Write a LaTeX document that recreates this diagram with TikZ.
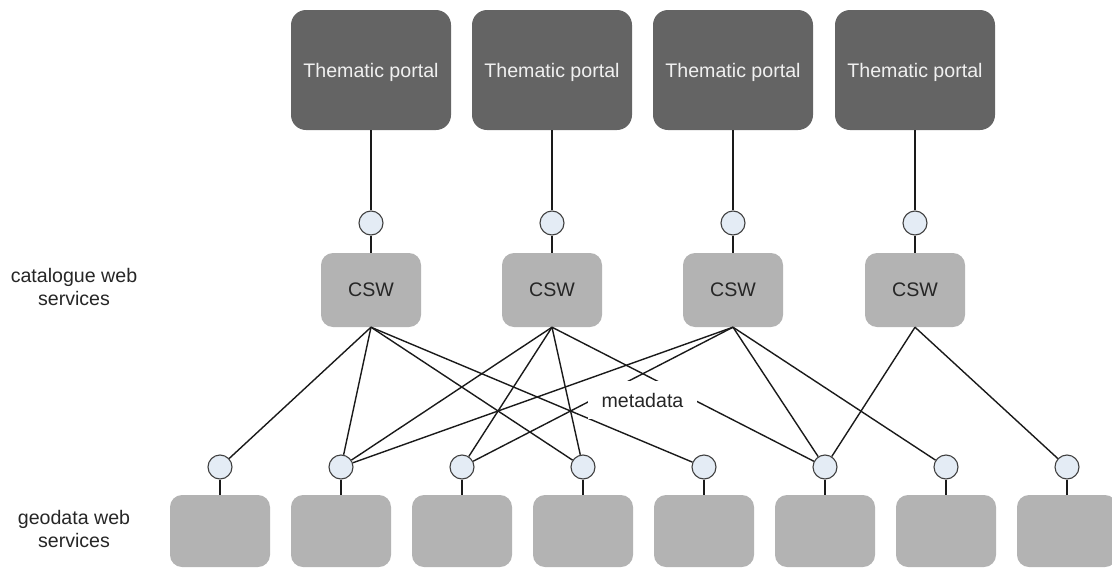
\documentclass[tikz,border=0pt]{standalone}
\usepackage{fontspec}
\setmainfont{Liberation Sans}
\begin{document}
\begin{tikzpicture}[x=1pt,y=-1pt,
  font=\fontsize{19.6}{23}\selectfont,
  portal/.style={rectangle, rounded corners=15pt, fill=portalgray, text=portaltext,
    minimum width=160pt, minimum height=120pt, inner sep=0pt, text depth=0pt},
  cswbox/.style={rectangle, rounded corners=12pt, fill=boxgray, text=cswtext,
    minimum width=100pt, minimum height=74pt, inner sep=0pt},
  geobox/.style={rectangle, rounded corners=12pt, fill=boxgray,
    minimum width=100pt, minimum height=72pt, inner sep=0pt},
  iface/.style={circle, draw=circledraw, line width=1.1pt, fill=circlefill,
    minimum size=24pt, inner sep=0pt},
  link/.style={draw=linecol, line width=1.4pt},
  sidelabel/.style={align=center, text=labeltext, inner sep=0pt},
  metalabel/.style={fill=white, text=labeltext, minimum width=109pt, minimum height=38pt, inner sep=0pt}
]
\definecolor{portalgray}{HTML}{646464}
\definecolor{portaltext}{HTML}{F0F0F0}
\definecolor{boxgray}{HTML}{B3B3B3}
\definecolor{cswtext}{HTML}{262626}
\definecolor{circledraw}{HTML}{404040}
\definecolor{circlefill}{HTML}{E4ECF5}
\definecolor{linecol}{HTML}{1A1A1A}
\definecolor{labeltext}{HTML}{262626}
\useasboundingbox (0,0) rectangle (1112,568);

% thematic portals
\foreach \i/\x in {1/371,2/552,3/733,4/915}{
  \node[portal] (p\i) at (\x,70) {Thematic portal};
  \node[iface] (t\i) at (\x,223) {};
  \node[cswbox] (c\i) at (\x,290) {CSW};
}
% geodata services
\foreach \i/\x in {1/220,2/341,3/462,4/583,5/704,6/825,7/946,8/1067}{
  \node[iface] (b\i) at (\x,467) {};
  \node[geobox] (g\i) at (\x,531) {};
}

% side labels
\node[sidelabel] (lcat) at (74,286.5) {catalogue web\\services};
\node[sidelabel] (lgeo) at (74,528.5) {geodata web\\services};

% vertical connectors
\foreach \i in {1,2,3,4}{
  \path[link] (p\i) -- (t\i);
  \path[link] (t\i) -- (c\i);
}
\foreach \i in {1,...,8}{
  \path[link] (b\i) -- (g\i);
}

% CSW to geodata interfaces
\foreach \c/\b in {1/1,1/2,1/4,1/5, 2/2,2/3,2/4,2/6, 3/2,3/3,3/6,3/7, 4/6,4/8}{
  \path[link] (c\c.south) -- (b\b);
}

% metadata label (covers the lines it crosses)
\node[metalabel] (meta) at (642.5,400) {metadata};
\end{tikzpicture}
\end{document}
